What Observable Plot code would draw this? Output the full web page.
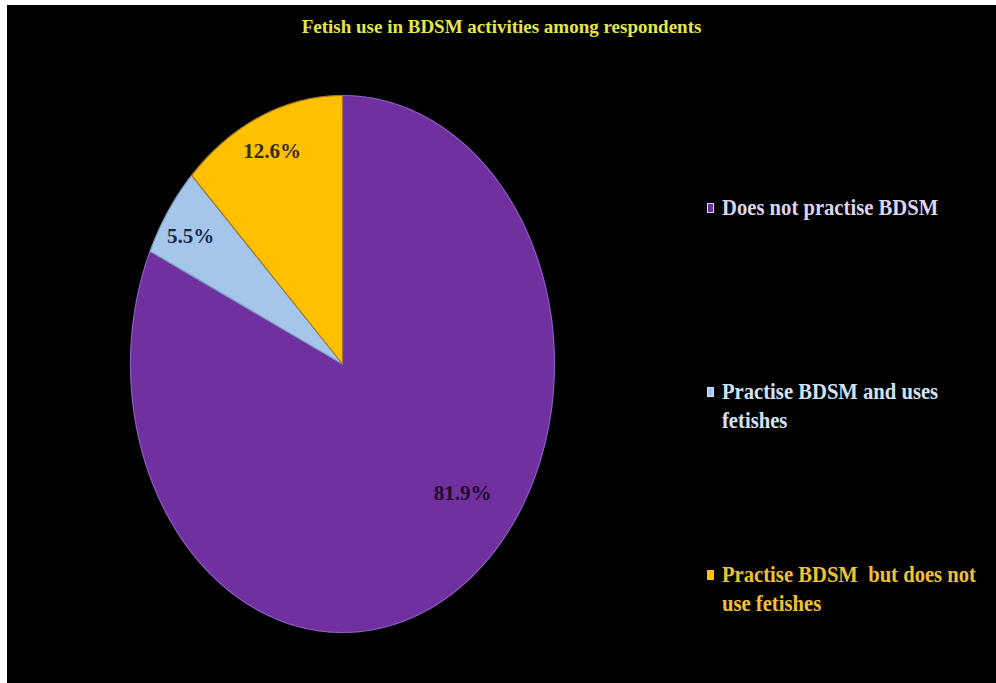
<!DOCTYPE html>
<html>
<head>
<meta charset="utf-8">
<script src="https://cdn.jsdelivr.net/npm/d3@7"></script>
<script src="https://cdn.jsdelivr.net/npm/@observablehq/plot@0.6"></script>
<style>
  html, body { margin: 0; padding: 0; background: #ffffff; }
  #stage { position: relative; width: 996px; height: 683px; overflow: hidden; }
  #panel { position: absolute; left: 7px; top: 5px; width: 989px; height: 678px; background: #000000; }
  #chart { position: absolute; left: 0; top: 0; }
  #title { position: absolute; left: 7px; width: 989px; top: 16px; line-height: 22px; text-align: center;
           font-family: "Liberation Serif", "Times New Roman", serif; font-weight: bold; font-size: 19px; color: #e4e64a; }
  .lg-text { position: absolute; left: 722px; width: 310px; font-family: "Liberation Serif", "Times New Roman", serif;
             font-weight: bold; font-size: 24px; line-height: 29px; white-space: pre-wrap;
             transform: scaleX(0.86); transform-origin: 0 0; }
  .lg-sw { position: absolute; left: 707px; width: 7px; height: 10px; box-sizing: border-box; }
</style>
</head>
<body>
<div id="stage">
  <div id="panel"></div>
  <div id="chart"></div>
  <div id="title"></div>
</div>
<script>
// ---- data ----
const title = "Fetish use in BDSM activities among respondents";
const categories = ["Does not practise BDSM", "Practise BDSM and uses fetishes", "Practise BDSM  but does not use fetishes"];
const values = [81.9, 5.5, 12.6];
const labels = ["81.9%", "5.5%", "12.6%"];

// ---- styles ----
const fills = ["#7030a0", "#a4c6ea", "#ffc000"];
const strokes = ["#8a5cc0", "#7f9cbf", "#a07828"];
const labelColors = ["#1c0d33", "#1c2b45", "#3a2a10"];
const legendColors = ["#ddd4f0", "#d3e3f5", "#f0c22e"];
const legendBaselines = [216, 400, 583];

// ---- geometry from d3.pie (angles clockwise from 12 o'clock) ----
const arcs = d3.pie().sort(null).value(d => d)(values);
const polys = [];
arcs.forEach((a, i) => {
  const key = categories[i];
  polys.push({key, x: 0, y: 0});
  const steps = Math.max(2, Math.ceil((a.endAngle - a.startAngle) / (Math.PI / 360)));
  for (let s = 0; s <= steps; s++) {
    const t = a.startAngle + (a.endAngle - a.startAngle) * s / steps;
    polys.push({key, x: Math.sin(t), y: Math.cos(t)});
  }
});
const labelRadius = [0.72, 0.86, 0.86];
const labelShift = [[38, -34], [-2, 4], [0, 0]];
const labelData = arcs.map((a, i) => {
  const m = (a.startAngle + a.endAngle) / 2;
  return {key: categories[i], text: labels[i], x: labelRadius[i] * Math.sin(m), y: labelRadius[i] * Math.cos(m), i};
});

const marks = categories.map((c, i) =>
  Plot.line(polys.filter(d => d.key === c), {x: "x", y: "y", z: "key", fill: "key", stroke: strokes[i], strokeWidth: 1.2, curve: "linear-closed"})
);
labelData.forEach((d, i) => {
  marks.push(Plot.text([d], {x: "x", y: "y", text: "text", fill: labelColors[i], dx: labelShift[i][0], dy: labelShift[i][1],
    fontSize: 21, fontWeight: "bold", fontFamily: "Liberation Serif, Times New Roman, serif"}));
});

const chart = Plot.plot({
  width: 996,
  height: 683,
  margin: 0,
  style: {background: "transparent", overflow: "visible"},
  x: {domain: [-1, 1], range: [130, 554], axis: null},
  y: {domain: [-1, 1], range: [632, 95], axis: null},
  color: {domain: categories, range: fills},
  marks
});
document.getElementById("chart").appendChild(chart);
document.getElementById("title").textContent = title;

// ---- legend ----
const stage = document.getElementById("stage");
categories.forEach((c, i) => {
  const sw = document.createElement("div");
  sw.className = "lg-sw";
  sw.style.top = (legendBaselines[i] - 13) + "px";
  sw.style.background = fills[i];
  sw.style.border = "1px solid " + legendColors[i];
  stage.appendChild(sw);
  const t = document.createElement("div");
  t.className = "lg-text";
  t.style.top = (legendBaselines[i] - 22.6) + "px";
  t.style.color = legendColors[i];
  t.textContent = c;
  stage.appendChild(t);
});
</script>
</body>
</html>
